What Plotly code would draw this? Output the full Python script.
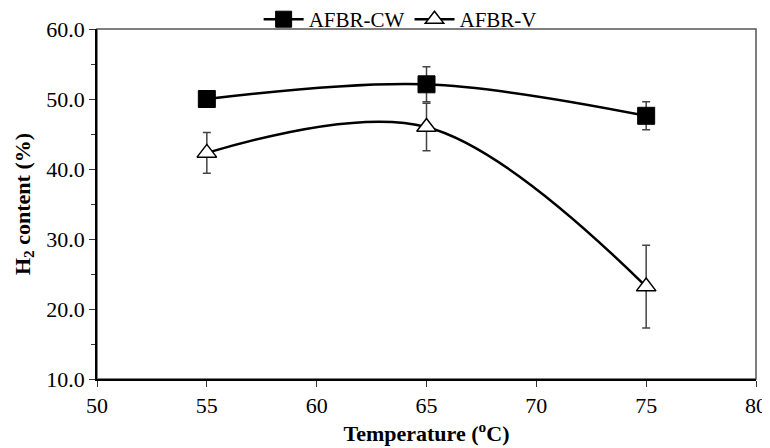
import plotly.graph_objects as go

temps = [55, 65, 75]
cw_vals = [50.0, 52.1, 47.6]
cw_err = [0.6, 2.5, 2.0]
v_vals = [42.3, 46.0, 23.2]
v_err = [2.9, 3.4, 5.9]
x_ticks = [50, 55, 60, 65, 70, 75, 80]
y_ticks = [10, 20, 30, 40, 50, 60]

FONT = "Liberation Serif, Times New Roman, serif"

fig = go.Figure()
fig.add_trace(go.Scatter(
    x=temps, y=cw_vals, name="AFBR-CW", mode="lines+markers",
    line=dict(color="black", width=2.5, shape="spline", smoothing=1.0),
    marker=dict(symbol="square", size=17, color="black", line=dict(color="black", width=1)),
    error_y=dict(type="data", array=cw_err, color="#444", thickness=1.5, width=4),
))
fig.add_trace(go.Scatter(
    x=temps, y=v_vals, name="AFBR-V", mode="lines+markers",
    line=dict(color="black", width=2.5, shape="spline", smoothing=1.0),
    marker=dict(symbol="triangle-up", size=17, color="white", line=dict(color="black", width=1.5)),
    error_y=dict(type="data", array=v_err, color="#444", thickness=1.5, width=4),
))

fig.add_shape(type="rect", xref="paper", yref="paper", x0=0, x1=1, y0=0, y1=1,
              line=dict(color="#555", width=1.5), layer="below")

# page body has an 8px default margin, so the figure is sized/offset to compensate
fig.update_layout(
    width=762, height=440,
    margin=dict(l=89, r=14, t=21, b=69, autoexpand=False),
    paper_bgcolor="white", plot_bgcolor="white",
    font=dict(family=FONT, color="black", size=22),
    showlegend=True,
    legend=dict(orientation="h", x=0.46, xanchor="center", y=1.027, yanchor="middle",
                font=dict(size=21, family=FONT), bgcolor="rgba(0,0,0,0)", itemwidth=40),
    xaxis=dict(range=[50, 80], tickvals=x_ticks, ticks="outside", ticklen=6, tickwidth=1.2,
               tickcolor="#333", showline=True, linecolor="black", linewidth=1.5,
               showgrid=False, zeroline=False, tickfont=dict(size=22, family=FONT),
               title=dict(text="<b>Temperature (<sup>o</sup>C)</b>", font=dict(size=22, family=FONT), standoff=4)),
    yaxis=dict(range=[10, 60], tickvals=y_ticks, tickformat=".1f", ticks="outside", ticklen=6,
               tickwidth=1.2, tickcolor="#333", showline=True, linecolor="black", linewidth=1.5,
               showgrid=False, zeroline=False, tickfont=dict(size=22, family=FONT),
               minor=dict(dtick=5, ticks="outside", ticklen=4, tickcolor="#333"),
               title=dict(text="<b>H<sub>2</sub> content (%)</b>", font=dict(size=22, family=FONT), standoff=10)),
)

fig.write_html("out.html")
